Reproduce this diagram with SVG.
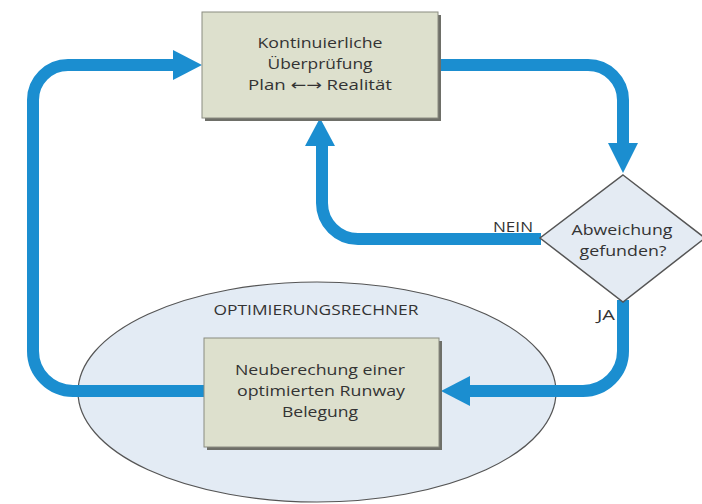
<svg xmlns="http://www.w3.org/2000/svg" width="702" height="504" viewBox="0 0 702 504">
<defs>
<style>
.flow{fill:none;stroke:#1b8ed0;stroke-width:12;stroke-linejoin:round}
.head{fill:#1b8ed0}
.box{fill:#dde0cd;stroke:#8a8c80;stroke-width:1}
.shadow{fill:#6e6f68}
.t{font-family:"Open Sans","Noto Sans",sans-serif;font-size:15px;fill:#333333;text-anchor:middle}
.lbl{font-family:"Open Sans","Noto Sans",sans-serif;font-size:14px;fill:#333333}
.arr{font-family:"DejaVu Sans",sans-serif}
</style>
</defs>
<rect width="702" height="504" fill="#ffffff"/>
<g id="optimierungsrechner">
<ellipse cx="317" cy="392" rx="239" ry="110" fill="#e3ebf4" stroke="#555" stroke-width="1.2"/>
<text class="t" x="316" y="315" textLength="205" lengthAdjust="spacingAndGlyphs">OPTIMIERUNGSRECHNER</text>
</g>
<g id="connectors">
<path class="flow" d="M204,391 H73 A40,40 0 0 1 33,351 V100 A35,35 0 0 1 68,65 H176"/>
<polygon class="head" points="202,65 173,50 173,80"/>
<path class="flow" d="M438,65 H588 A35,35 0 0 1 623,100 V146"/>
<polygon class="head" points="623,173 608,143 638,143"/>
<path class="flow" d="M541,239 H358 A36,36 0 0 1 322,203 V142"/>
<polygon class="head" points="320,118 305,146 335,146"/>
<path class="flow" d="M623,300 V351 A40,40 0 0 1 583,391 H466"/>
<polygon class="head" points="441,391 470,376 470,406"/>
</g>
<g id="ueberpruefung">
<rect class="shadow" x="205" y="15" width="236" height="106"/>
<rect class="box" x="202" y="12" width="236" height="106"/>
<text class="t" x="320" y="48" textLength="125" lengthAdjust="spacingAndGlyphs">Kontinuierliche</text>
<text class="t" x="320" y="69" textLength="105" lengthAdjust="spacingAndGlyphs">Überprüfung</text>
<text class="t" x="320" y="90" textLength="144" lengthAdjust="spacingAndGlyphs">Plan <tspan class="arr">←→</tspan> Realität</text>
</g>
<g id="abweichung">
<polygon points="623,175 705,238 623,302 540,238" fill="#e4ebf3" stroke="#555" stroke-width="1.5"/>
<text class="t" x="622" y="235" textLength="101" lengthAdjust="spacingAndGlyphs">Abweichung</text>
<text class="t" x="623" y="256" textLength="87" lengthAdjust="spacingAndGlyphs">gefunden?</text>
</g>
<g id="labels">
<text class="lbl" x="493" y="232" textLength="40" lengthAdjust="spacingAndGlyphs">NEIN</text>
<text class="lbl" x="597" y="320" textLength="18" lengthAdjust="spacingAndGlyphs">JA</text>
</g>
<g id="neuberechnung">
<rect class="shadow" x="207" y="341" width="235" height="109"/>
<rect class="box" x="204" y="338" width="235" height="109"/>
<text class="t" x="320" y="375" textLength="170" lengthAdjust="spacingAndGlyphs">Neuberechung einer</text>
<text class="t" x="321" y="396" textLength="168" lengthAdjust="spacingAndGlyphs">optimierten Runway</text>
<text class="t" x="320" y="417" textLength="76" lengthAdjust="spacingAndGlyphs">Belegung</text>
</g>
</svg>
